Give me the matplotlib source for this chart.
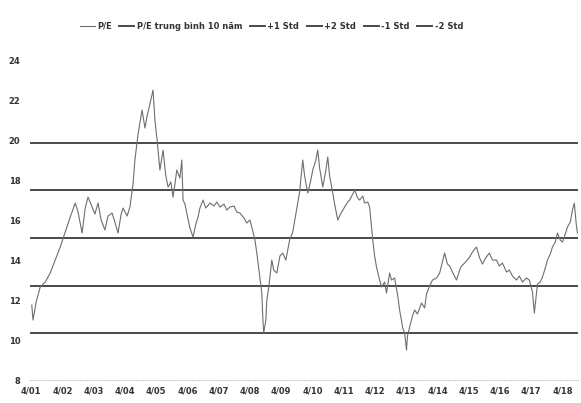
import numpy as np
import matplotlib
matplotlib.use('Agg')
import matplotlib.pyplot as plt

# time in years from start of series, P/E values
t_years = [0.02, 0.06, 0.16, 0.29, 0.45, 0.61, 0.77, 0.93, 1.09, 1.25, 1.41, 1.50,
           1.63, 1.73, 1.82, 1.95, 2.04, 2.14, 2.24, 2.36, 2.46, 2.59, 2.68, 2.78,
           2.88, 2.94, 3.07, 3.16, 3.26, 3.32, 3.42, 3.55, 3.64, 3.71, 3.80, 3.90,
           3.96, 4.03, 4.12, 4.22, 4.31, 4.38, 4.47, 4.54, 4.60, 4.66, 4.76, 4.82,
           4.86, 4.92, 4.98, 5.08, 5.18, 5.27, 5.34, 5.40, 5.50, 5.59, 5.72, 5.85,
           5.94, 6.04, 6.17, 6.26, 6.36, 6.49, 6.58, 6.68, 6.81, 6.90, 7.00, 7.06,
           7.16, 7.22, 7.28, 7.38, 7.41, 7.44, 7.51, 7.54, 7.60, 7.70, 7.76, 7.86,
           7.96, 8.05, 8.15, 8.27, 8.37, 8.50, 8.59, 8.69, 8.75, 8.85, 8.95, 9.01,
           9.11, 9.17, 9.23, 9.33, 9.42, 9.49, 9.55, 9.65, 9.71, 9.81, 9.90, 10.03,
           10.13, 10.19, 10.29, 10.35, 10.45, 10.51, 10.61, 10.67, 10.77, 10.83, 10.93, 10.99,
           11.05, 11.15, 11.21, 11.31, 11.37, 11.47, 11.53, 11.63, 11.73, 11.79, 11.89, 11.95,
           12.01, 12.04, 12.11, 12.20, 12.27, 12.36, 12.49, 12.59, 12.65, 12.75, 12.84, 12.97,
           13.07, 13.16, 13.23, 13.32, 13.39, 13.51, 13.61, 13.71, 13.77, 13.90, 14.03, 14.12,
           14.25, 14.35, 14.44, 14.54, 14.66, 14.76, 14.89, 14.98, 15.08, 15.21, 15.30, 15.40,
           15.53, 15.62, 15.72, 15.85, 15.94, 16.04, 16.10, 16.17, 16.20, 16.29, 16.36, 16.45,
           16.52, 16.61, 16.68, 16.77, 16.84, 16.93, 17.00, 17.09, 17.16, 17.25, 17.32, 17.38,
           17.44, 17.48]
pe = [11.75, 11.0, 11.9, 12.65, 12.9, 13.35, 14.0, 14.65, 15.4, 16.15, 16.85, 16.4,
      15.35, 16.6, 17.15, 16.65, 16.3, 16.85, 16.0, 15.5, 16.2, 16.35, 15.9, 15.35,
      16.3, 16.6, 16.2, 16.65, 17.8, 19.0, 20.3, 21.5, 20.6, 21.2, 21.8, 22.5,
      21.0, 20.0, 18.5, 19.5, 18.2, 17.65, 17.9, 17.15, 17.8, 18.5, 18.1, 19.0,
      17.0, 16.8, 16.35, 15.6, 15.15, 15.8, 16.15, 16.6, 17.0, 16.6, 16.85, 16.7,
      16.9, 16.65, 16.8, 16.5, 16.65, 16.7, 16.4, 16.35, 16.1, 15.85, 16.0, 15.65,
      15.0, 14.35, 13.6, 12.35, 11.2, 10.35, 11.0, 12.0, 12.6, 14.0, 13.5, 13.35,
      14.2, 14.35, 14.0, 15.0, 15.4, 16.6, 17.4, 19.0, 18.2, 17.35, 18.0, 18.5,
      19.0, 19.5, 18.6, 17.65, 18.4, 19.15, 18.2, 17.35, 16.8, 16.0, 16.3, 16.65,
      16.9, 17.0, 17.3, 17.5, 17.1, 17.0, 17.2, 16.85, 16.9, 16.65, 15.0, 14.2,
      13.65, 13.0, 12.65, 12.9, 12.35, 13.35, 13.0, 13.1, 12.2, 11.5, 10.6, 10.35,
      9.5, 10.2, 10.65, 11.2, 11.5, 11.3, 11.85, 11.6, 12.3, 12.7, 13.0, 13.1,
      13.35, 13.9, 14.35, 13.8, 13.7, 13.3, 13.0, 13.5, 13.7, 13.9, 14.15, 14.4,
      14.65, 14.1, 13.8, 14.1, 14.35, 14.0, 14.0, 13.7, 13.85, 13.4, 13.5, 13.2,
      13.0, 13.2, 12.9, 13.1, 13.0, 12.4, 11.35, 12.4, 12.8, 12.9, 13.15, 13.6,
      14.0, 14.3, 14.65, 14.9, 15.35, 15.0, 14.9, 15.3, 15.65, 15.9, 16.5, 16.85,
      15.8, 15.35]

pe_mean = 15.1
pe_std = 2.38

x_labels = ['4/01', '4/02', '4/03', '4/04', '4/05', '4/06', '4/07', '4/08', '4/09',
            '4/10', '4/11', '4/12', '4/13', '4/14', '4/15', '4/16', '4/17', '4/18']
y_ticks = [8, 10, 12, 14, 16, 18, 20, 22, 24]

fig = plt.figure(figsize=(5.81, 4.03), dpi=100)
ax = fig.add_axes([0.052, 0.057, 0.943, 0.794])

line_col = '#4a4a4a'
ax.plot(t_years, pe, color='#6e6e6e', lw=0.8, label='P/E', zorder=3)
ax.axhline(pe_mean, color=line_col, lw=1.4, label='P/E trung bình 10 năm')
ax.axhline(pe_mean + pe_std, color=line_col, lw=1.4, label='+1 Std')
ax.axhline(pe_mean + 2 * pe_std, color=line_col, lw=1.4, label='+2 Std')
ax.axhline(pe_mean - pe_std, color=line_col, lw=1.4, label='-1 Std')
ax.axhline(pe_mean - 2 * pe_std, color=line_col, lw=1.4, label='-2 Std')

ax.set_xlim(-0.03, 17.5)
ax.set_ylim(8, 24)
ax.set_yticks(y_ticks)
ax.set_yticklabels([str(v) for v in y_ticks], fontsize=6, fontweight='bold', color='#333333')
ax.set_xticks(range(len(x_labels)))
ax.set_xticklabels(x_labels, fontsize=6, fontweight='bold', color='#333333')
ax.tick_params(axis='both', length=0)
ax.tick_params(axis='y', pad=7)
ax.tick_params(axis='x', pad=5)

for s in ['top', 'right', 'left']:
    ax.spines[s].set_visible(False)
ax.spines['bottom'].set_color('#cccccc')
ax.spines['bottom'].set_linestyle(':')
ax.spines['bottom'].set_linewidth(0.8)

leg = fig.legend(loc='center', bbox_to_anchor=(0.467, 0.935), ncol=6, frameon=False,
                 fontsize=6, handlelength=1.8, columnspacing=0.9, handletextpad=0.3)
for txt in leg.get_texts():
    txt.set_fontweight('bold')
    txt.set_color('#333333')

fig.savefig('out.png', dpi=100)
